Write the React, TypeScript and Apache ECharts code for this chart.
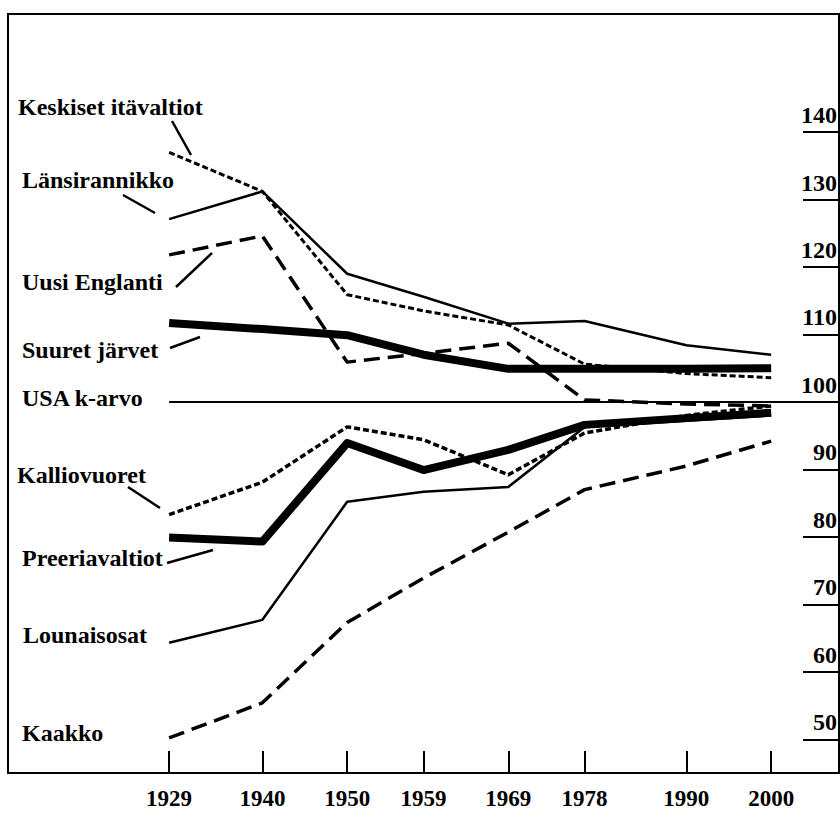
import React, { useEffect, useRef } from "react";
import * as echarts from "echarts";

// ---- data ----
const years = [1929, 1940, 1950, 1959, 1969, 1978, 1990, 2000];
const keskisetItavaltiot = [137.0, 131.2, 115.9, 113.5, 111.4, 105.6, 104.2, 103.6];
const lansirannikko = [127.1, 131.2, 119.0, 115.6, 111.6, 112.0, 108.4, 107.0];
const uusiEnglanti = [121.8, 124.6, 105.9, 107.2, 108.7, 100.3, 99.7, 99.4];
const suuretJarvet = [111.7, 110.8, 109.9, 107.0, 104.9, 104.9, 104.9, 105.0];
const kalliovuoret = [83.3, 88.1, 96.3, 94.4, 89.2, 95.4, 98.0, 99.4];
const preeriavaltiot = [79.9, 79.3, 93.9, 89.9, 92.9, 96.6, 97.6, 98.4];
const lounaisosat = [64.3, 67.7, 85.2, 86.7, 87.4, 96.3, 97.2, 98.0];
const kaakko = [50.2, 55.4, 67.3, 73.9, 80.7, 87.0, 90.5, 94.2];
const usaYears = [1929, 2008];
const usaValues = [100, 100];
const yTickLabels = [50, 60, 70, 80, 90, 100, 110, 120, 130, 140];
const yUnderlines = [50, 60, 70, 80, 90, 110, 120, 130, 140];

const FONT = "'Liberation Serif', 'Times New Roman', serif";

const pairs = (xs: number[], vs: number[]) => xs.map((x, i) => [x, vs[i]]);

export default function App() {
  const ref = useRef<HTMLDivElement>(null);
  useEffect(() => {
    if (!ref.current) return;
    const chart = echarts.init(ref.current, undefined, { renderer: "svg" });

    const mk = (name: string, xs: number[], vs: number[], width: number, type: any) => ({
      name,
      type: "line",
      data: pairs(xs, vs),
      symbol: "none",
      showSymbol: false,
      silent: true,
      lineStyle: { color: "#000", width, type, cap: "butt", join: "round" },
    });

    const shortDash = [6, 3];
    const longDash = [16, 8];

    const labelText = (text: string, x: number, y: number) => ({
      type: "text",
      x,
      y,
      silent: true,
      style: {
        text,
        fill: "#000",
        fontSize: 24,
        fontWeight: "bold",
        fontFamily: FONT,
        verticalAlign: "middle",
        align: "left",
      },
    });
    const leader = (x1: number, y1: number, x2: number, y2: number) => ({
      type: "line",
      silent: true,
      shape: { x1, y1, x2, y2 },
      style: { stroke: "#000", lineWidth: 2.5 },
    });

    chart.setOption({
      animation: false,
      backgroundColor: "#fff",
      grid: {
        left: 8,
        top: 14,
        width: 840,
        height: 759,
        show: true,
        borderColor: "#000",
        borderWidth: 2,
        backgroundColor: "transparent",
      },
      xAxis: {
        type: "value",
        min: 1910,
        max: 2008,
        axisLine: { show: false },
        splitLine: { show: false },
        axisTick: {
          show: true,
          inside: true,
          length: 22,
          customValues: years,
          lineStyle: { color: "#000", width: 2 },
        },
        axisLabel: {
          customValues: years,
          margin: 14,
          formatter: (v: number) => String(v),
          color: "#000",
          fontSize: 23,
          fontWeight: "bold",
          fontFamily: FONT,
        },
      },
      yAxis: {
        type: "value",
        position: "right",
        min: 45,
        max: 157.5,
        axisLine: { show: false },
        splitLine: { show: false },
        axisTick: {
          show: true,
          inside: true,
          length: 36,
          customValues: yUnderlines,
          lineStyle: { color: "#000", width: 2 },
        },
        axisLabel: {
          inside: true,
          customValues: yTickLabels,
          margin: 2,
          verticalAlign: "bottom",
          padding: [0, 0, 5, 0],
          formatter: (v: number) => String(v),
          color: "#000",
          fontSize: 24,
          fontWeight: "bold",
          fontFamily: FONT,
        },
      },
      series: [
        mk("USA k-arvo", usaYears, usaValues, 2, "solid"),
        mk("Keskiset itävaltiot", years, keskisetItavaltiot, 3, shortDash),
        mk("Länsirannikko", years, lansirannikko, 2.5, "solid"),
        mk("Uusi Englanti", years, uusiEnglanti, 3.5, longDash),
        mk("Suuret järvet", years, suuretJarvet, 8, "solid"),
        mk("Kalliovuoret", years, kalliovuoret, 3.5, shortDash),
        mk("Preeriavaltiot", years, preeriavaltiot, 8, "solid"),
        mk("Lounaisosat", years, lounaisosat, 2.5, "solid"),
        mk("Kaakko", years, kaakko, 3.5, longDash),
      ],
      graphic: [
        labelText("Keskiset itävaltiot", 18, 107),
        leader(172, 121, 191, 155),
        labelText("Länsirannikko", 22, 180),
        leader(123, 195, 155, 213),
        labelText("Uusi Englanti", 22, 282),
        leader(176, 287, 212, 253),
        labelText("Suuret järvet", 22, 350),
        leader(170, 348, 200, 337),
        labelText("USA k-arvo", 22, 398),
        labelText("Kalliovuoret", 17, 475),
        leader(128, 487, 160, 508),
        labelText("Preeriavaltiot", 22, 558),
        leader(167, 563, 213, 550),
        labelText("Lounaisosat", 23, 635),
        labelText("Kaakko", 22, 733),
      ],
    });
    return () => chart.dispose();
  }, []);
  return (
    <div
      ref={ref}
      style={{ position: "fixed", left: 0, top: 0, width: 840, height: 819, background: "#fff" }}
    />
  );
}
